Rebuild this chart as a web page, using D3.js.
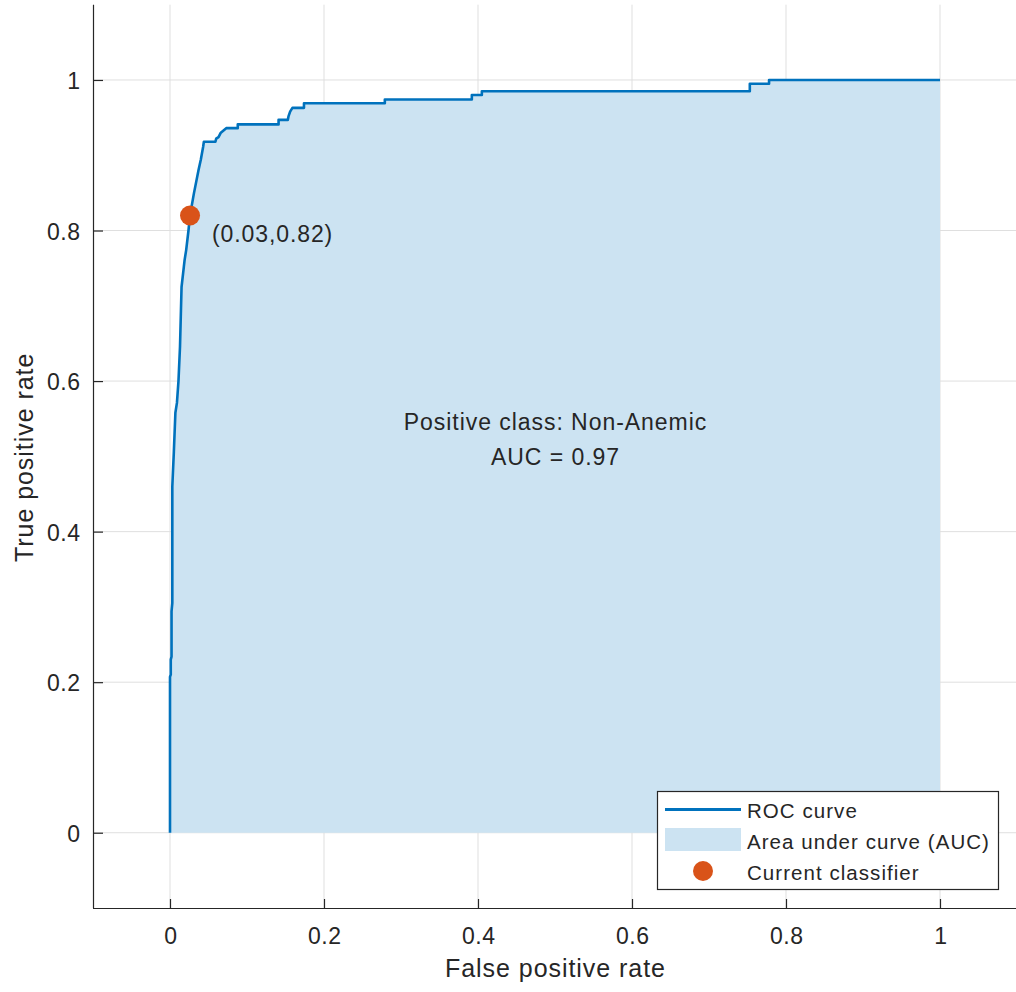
<!DOCTYPE html>
<html>
<head>
<meta charset="utf-8">
<script src="https://cdn.jsdelivr.net/npm/d3@7"></script>
<style>
  html, body { margin: 0; padding: 0; background: #fff; }
  svg { display: block; font-family: "Liberation Sans", Arial, Helvetica, sans-serif; }
  text { fill: #262626; }
</style>
</head>
<body>
<svg id="chart" width="1016" height="992"></svg>
<script>
// ROC curve points (false positive rate, true positive rate)
const fpr = [0, 0, 0.001, 0.001, 0.002, 0.002, 0.003, 0.003, 0.003, 0.005, 0.007, 0.009, 0.011, 0.013,
  0.015, 0.018, 0.019, 0.021, 0.024, 0.026, 0.031, 0.037, 0.040, 0.043, 0.044, 0.059, 0.060, 0.063,
  0.066, 0.073, 0.088, 0.088, 0.141, 0.141, 0.153, 0.154, 0.156, 0.159, 0.174, 0.174, 0.279, 0.279,
  0.392, 0.392, 0.405, 0.405, 0.753, 0.753, 0.778, 0.778, 1];
const tpr = [0, 0.207, 0.21, 0.23, 0.234, 0.294, 0.305, 0.39, 0.46, 0.506, 0.558, 0.571, 0.60, 0.646,
  0.725, 0.752, 0.761, 0.774, 0.80, 0.82, 0.849, 0.88, 0.894, 0.911, 0.918, 0.918, 0.922, 0.924,
  0.93, 0.936, 0.936, 0.941, 0.941, 0.947, 0.947, 0.952, 0.958, 0.963, 0.963, 0.969, 0.969, 0.974,
  0.974, 0.98, 0.98, 0.985, 0.985, 0.995, 0.995, 1, 1];

// Operating point of the current classifier
const classifierFpr = 0.026;
const classifierTpr = 0.82;

const xTicks = [0, 0.2, 0.4, 0.6, 0.8, 1];
const yTicks = [0, 0.2, 0.4, 0.6, 0.8, 1];
const xTickLabels = ["0", "0.2", "0.4", "0.6", "0.8", "1"];
const yTickLabels = ["0", "0.2", "0.4", "0.6", "0.8", "1"];

const positiveClass = "Non-Anemic";
const auc = 0.97;
const legendLabels = ["ROC curve", "Area under curve (AUC)", "Current classifier"];

const COLORS = {
  line: "#0072BD",
  fill: "#CCE3F2",
  dot: "#D95319",
  axis: "#262626",
  grid: "#DFDFDF"
};

const svg = d3.select("#chart");
const margin = { left: 93, right: -1, top: 4.7, bottom: 84 };
const W = 1016, H = 992;

const x = d3.scaleLinear().domain([-0.1, 1.1]).range([margin.left, W - margin.right]);
const y = d3.scaleLinear().domain([-0.1, 1.1]).range([H - margin.bottom, margin.top]);

const points = fpr.map((f, i) => [f, tpr[i]]);

// grid
const grid = svg.append("g");
grid.selectAll("line.gx").data(xTicks).join("line")
  .attr("x1", d => x(d)).attr("x2", d => x(d))
  .attr("y1", y(-0.1)).attr("y2", y(1.1))
  .attr("stroke", COLORS.grid).attr("stroke-width", 1);
grid.selectAll("line.gy").data(yTicks).join("line")
  .attr("y1", d => y(d)).attr("y2", d => y(d))
  .attr("x1", x(-0.1)).attr("x2", x(1.1))
  .attr("stroke", COLORS.grid).attr("stroke-width", 1);

// area under curve
const area = d3.area().x(d => x(d[0])).y0(y(0)).y1(d => y(d[1]));
svg.append("path").datum(points)
  .attr("d", area)
  .attr("fill", COLORS.fill);

// ROC curve
const line = d3.line().x(d => x(d[0])).y(d => y(d[1]));
svg.append("path").datum(points)
  .attr("d", line)
  .attr("fill", "none")
  .attr("stroke", COLORS.line)
  .attr("stroke-width", 2.6)
  .attr("stroke-linejoin", "round");

// current classifier marker and its label
const fmt = d3.format(".2f");
svg.append("circle")
  .attr("cx", x(classifierFpr)).attr("cy", y(classifierTpr))
  .attr("r", 10).attr("fill", COLORS.dot);
svg.append("text")
  .attr("x", x(classifierFpr) + 22).attr("y", y(classifierTpr) + 27)
  .attr("font-size", 23).attr("letter-spacing", 0.9)
  .text(`(${fmt(classifierFpr)},${fmt(classifierTpr)})`);

// class / AUC annotation
const note = svg.append("text")
  .attr("text-anchor", "middle")
  .attr("font-size", 23).attr("letter-spacing", 0.95);
note.append("tspan").attr("x", x(0.5) + 0.5).attr("y", y(0.5) - 26.5)
  .text(`Positive class: ${positiveClass}`);
note.append("tspan").attr("x", x(0.5) + 0.5).attr("y", y(0.5) + 8.5)
  .text(`AUC = ${auc.toFixed(2)}`);

// axes (left and bottom only, ticks pointing inward)
const xAxis = d3.axisBottom(x).tickValues(xTicks).tickSize(-9)
  .tickFormat((d, i) => xTickLabels[i]).tickPadding(0);
const gx = svg.append("g").attr("transform", `translate(0,${y(-0.1)})`).call(xAxis);
const yAxis = d3.axisLeft(y).tickValues(yTicks).tickSize(-10)
  .tickFormat((d, i) => yTickLabels[i]).tickPadding(0);
const gy = svg.append("g").attr("transform", `translate(${x(-0.1)},0)`).call(yAxis);

[gx, gy].forEach(g => {
  g.select(".domain").attr("stroke", COLORS.axis).attr("stroke-width", 1.2);
  g.selectAll(".tick line").attr("stroke", COLORS.axis).attr("stroke-width", 1.2);
  g.selectAll(".tick text")
    .attr("font-family", "Liberation Sans, Arial, sans-serif")
    .attr("font-size", 23).attr("letter-spacing", 0.5)
    .attr("fill", COLORS.axis);
});
gx.select(".domain").attr("d", `M${x(-0.1)},0.5H${x(1.1)}`);
gy.select(".domain").attr("d", `M0.5,${y(-0.1)}V${y(1.1)}`);
gx.selectAll(".tick text").attr("dy", null).attr("y", 35.5).attr("dx", 0.3);
gy.selectAll(".tick text").attr("dy", null).attr("x", -12.5).attr("y", 8.5);

// axis titles
svg.append("text")
  .attr("x", x(0.5) + 0.5).attr("y", 977)
  .attr("text-anchor", "middle")
  .attr("font-size", 25).attr("letter-spacing", 0.95)
  .text("False positive rate");
svg.append("text")
  .attr("transform", `translate(33,${(y(-0.1) + y(1.1)) / 2 + 1}) rotate(-90)`)
  .attr("text-anchor", "middle")
  .attr("font-size", 25).attr("letter-spacing", 0.95)
  .text("True positive rate");

// legend
const lg = svg.append("g").attr("transform", "translate(657,791)");
lg.append("rect").attr("x", 0.5).attr("y", 0.5).attr("width", 341).attr("height", 98)
  .attr("fill", "#fff").attr("stroke", COLORS.axis).attr("stroke-width", 1.2);
lg.append("line").attr("x1", 8).attr("x2", 84).attr("y1", 18.5).attr("y2", 18.5)
  .attr("stroke", COLORS.line).attr("stroke-width", 3);
lg.append("rect").attr("x", 8).attr("y", 37).attr("width", 76).attr("height", 23)
  .attr("fill", COLORS.fill);
lg.append("circle").attr("cx", 46).attr("cy", 80).attr("r", 10).attr("fill", COLORS.dot);
lg.selectAll("text.lab").data(legendLabels).join("text")
  .attr("x", 90).attr("y", (d, i) => 26.5 + i * 31)
  .attr("font-size", 20.5).attr("letter-spacing", 1.05)
  .text(d => d);
</script>
</body>
</html>
